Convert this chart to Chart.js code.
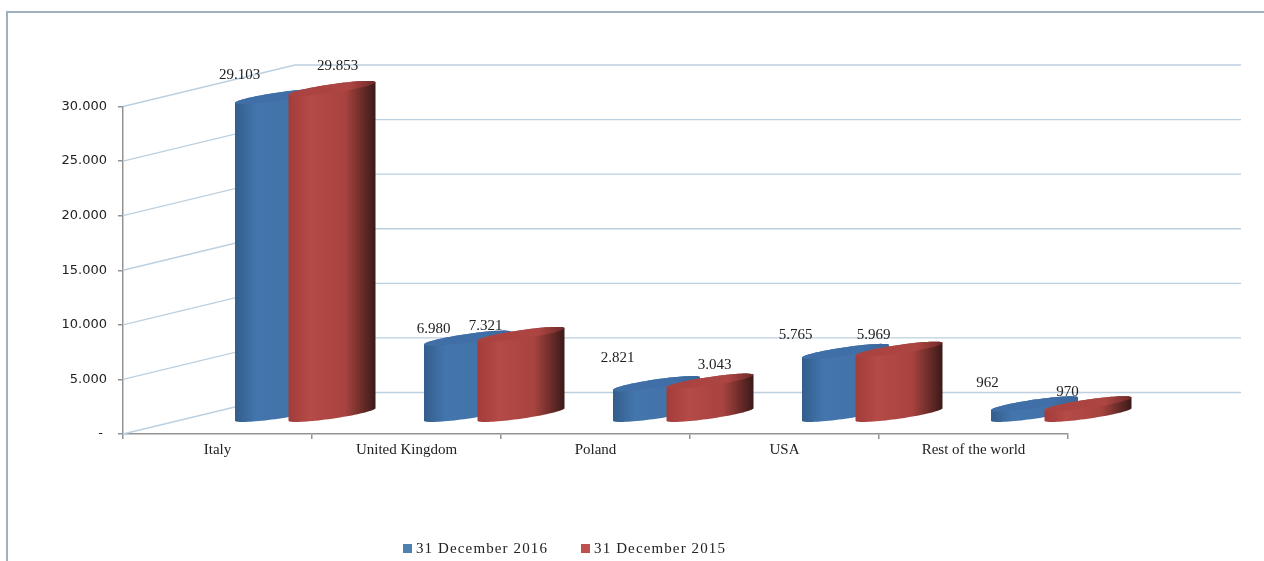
<!DOCTYPE html>
<html>
<head>
<meta charset="utf-8">
<title>Chart</title>
<script src="https://cdn.jsdelivr.net/npm/chart.js@4"></script>
<style>
  html, body { margin: 0; padding: 0; background: #fff; overflow: hidden; }
  #wrap { position: relative; width: 1264px; height: 561px; overflow: hidden; }
  #frame { position: absolute; left: 6px; top: 11px; right: 0; bottom: 0; border-top: 2px solid #9db2bd; border-left: 2px solid #9db2bd; }
  #legend { position: absolute; left: 403px; top: 540px; display: flex; align-items: center; font: 15px 'Liberation Serif'; letter-spacing: 1.12px; color: #222; white-space: nowrap; }
  #legend i { display: inline-block; width: 9px; height: 9px; margin-right: 4px; }
  #legend span { margin-right: 33px; }
</style>
</head>
<body>
<div id="wrap">
  <div id="frame"></div>
  <canvas id="myChart" width="1264" height="561" style="position:absolute;left:0;top:0"></canvas>
  <div id="legend"></div>
</div>
<script>
// ------------------------------DATA------------------------------
var categories = ["Italy", "United Kingdom", "Poland", "USA", "Rest of the world"];
var values2016 = [29103, 6980, 2821, 5765, 962];
var values2015 = [29853, 7321, 3043, 5969, 970];
var seriesNames = ["31 December 2016", "31 December 2015"];
var yTicks = [0, 5000, 10000, 15000, 20000, 25000, 30000];

// ------------------------------3D LOOK------------------------------
var wallDx = 172, wallDy = -41.5, wallRight = 1241;
var barOffsets = [61, 114.5];   // cylinder centre from category centre
var barRadiusX = 43.5, barRadiusY = 7.6, barLift = 19.6, barPhase = 0.6;
var blueStops = ["#335d8c", "#4376ad", "#4272a8", "#3a659a"];
var redStops = ["#a23c3a", "#b54a47", "#a8433f", "#3a1a18"];
var capStops = [["#3f6fa6", "#3f6fa6", "#3a659a"], ["#a94240", "#ad4542", "#6e2a28"]];
// label centre, relative to category centre and to the top of the value
var labelDx = [[22, 27, 22, 11, 14], [120, 79, 119, 89, 94]];
var labelDy = [[-41, -29, -45, -36, -40], [-42, -28, -36, -34, -31]];

function numberText(v) {
  if (v === 0) return "- ";
  return String(v).replace(/\B(?=(\d{3})+$)/g, ".");
}

function rimPoint(cx, cy, t) {
  return [cx + barRadiusX * Math.cos(t), cy - barRadiusY * Math.cos(t - barPhase)];
}

function drawCylinder(ctx, cx, baseY, topY, stops, caps) {
  var n = 40, i, p;
  var g = ctx.createLinearGradient(cx - barRadiusX, 0, cx + barRadiusX, 0);
  g.addColorStop(0, stops[0]);
  g.addColorStop(0.25, stops[1]);
  g.addColorStop(0.65, stops[2]);
  g.addColorStop(1, stops[3]);
  ctx.beginPath();
  // lower rim, left to right, then back along the upper rim
  for (i = 0; i <= n; i++) {
    p = rimPoint(cx, baseY, Math.PI + Math.PI * i / n);
    if (i === 0) ctx.moveTo(p[0], p[1]); else ctx.lineTo(p[0], p[1]);
  }
  for (i = 0; i <= n; i++) {
    p = rimPoint(cx, topY, Math.PI * i / n);
    ctx.lineTo(p[0], p[1]);
  }
  ctx.closePath();
  ctx.fillStyle = g;
  ctx.fill();
  // cap
  var c = ctx.createLinearGradient(cx - barRadiusX, 0, cx + barRadiusX, 0);
  c.addColorStop(0, caps[0]);
  c.addColorStop(0.7, caps[1]);
  c.addColorStop(1, caps[2]);
  ctx.beginPath();
  for (i = 0; i <= 2 * n; i++) {
    p = rimPoint(cx, topY, Math.PI * i / n);
    if (i === 0) ctx.moveTo(p[0], p[1]); else ctx.lineTo(p[0], p[1]);
  }
  ctx.closePath();
  ctx.fillStyle = c;
  ctx.fill();
}

var wallPlugin = {
  id: "wall",
  beforeDatasetsDraw: function (chart) {
    var ctx = chart.ctx, y = chart.scales.y, left = chart.chartArea.left;
    ctx.save();
    ctx.strokeStyle = "#bcd0e0";
    ctx.lineWidth = 1.3;
    yTicks.forEach(function (v) {
      var py = y.getPixelForValue(v);
      ctx.beginPath();
      ctx.moveTo(left, py);
      ctx.lineTo(left + wallDx, py + wallDy);
      ctx.lineTo(wallRight, py + wallDy);
      ctx.stroke();
    });
    ctx.restore();
  },
  beforeDatasetDraw: function (chart, args) {
    // the bars are drawn as cylinders from the scales, in place of flat rectangles
    var ctx = chart.ctx, x = chart.scales.x, y = chart.scales.y;
    var di = args.index;
    var data = chart.data.datasets[di].data;
    var base = y.getPixelForValue(0) - barLift;
    ctx.save();
    data.forEach(function (v, i) {
      var cx = x.getPixelForValue(i) + barOffsets[di];
      var h = y.getPixelForValue(0) - y.getPixelForValue(v);
      drawCylinder(ctx, cx, base, base - h, di === 0 ? blueStops : redStops, capStops[di]);
    });
    ctx.restore();
    return false;
  },
  afterDatasetsDraw: function (chart) {
    var ctx = chart.ctx, x = chart.scales.x, y = chart.scales.y;
    ctx.save();
    ctx.font = "15px 'Liberation Serif'";
    ctx.fillStyle = "#222";
    ctx.textAlign = "center";
    ctx.textBaseline = "middle";
    chart.data.datasets.forEach(function (ds, di) {
      ds.data.forEach(function (v, i) {
        ctx.fillText(numberText(v), x.getPixelForValue(i) + labelDx[di][i], y.getPixelForValue(v) + labelDy[di][i]);
      });
    });
    ctx.restore();
  }
};

var chart = new Chart("myChart", {
  type: "bar",
  plugins: [wallPlugin],
  data: {
    labels: categories,
    datasets: [{
      label: seriesNames[0],
      data: values2016,
      backgroundColor: "#4f81b0",
      order: 2
    }, {
      label: seriesNames[1],
      data: values2015,
      backgroundColor: "#c0504d",
      order: 1
    }]
  },
  options: {
    responsive: false,
    animation: false,
    layout: { padding: { left: 0, right: 196, top: 106.5, bottom: 0 } },
    plugins: {
      tooltip: { enabled: false },
      legend: { display: false }
    },
    scales: {
      x: {
        afterFit: function (s) { s.height = 127; },
        grid: { drawOnChartArea: false, tickLength: 5, color: "#939393", lineWidth: 1.5 },
        border: { color: "#939393", width: 1.5 },
        ticks: { color: "#222", padding: 2, font: { family: "'Liberation Serif'", size: 15 } }
      },
      y: {
        min: 0,
        max: 30000,
        afterFit: function (s) { s.width = 123; },
        afterBuildTicks: function (s) { s.ticks = yTicks.map(function (v) { return { value: v }; }); },
        grid: { drawOnChartArea: false, tickLength: 5, color: "#939393", lineWidth: 1.5 },
        border: { color: "#939393", width: 1.5 },
        ticks: {
          color: "#222",
          padding: 11,
          font: { family: "'DejaVu Sans'", size: 13 },
          callback: function (v) { return numberText(v); }
        }
      }
    }
  }
});

// legend below the chart, built from the datasets
var legendBox = document.getElementById("legend");
chart.data.datasets.forEach(function (ds) {
  var swatch = document.createElement("i");
  swatch.style.background = ds.backgroundColor;
  var text = document.createElement("span");
  text.textContent = ds.label;
  legendBox.appendChild(swatch);
  legendBox.appendChild(text);
});
</script>
</body>
</html>
